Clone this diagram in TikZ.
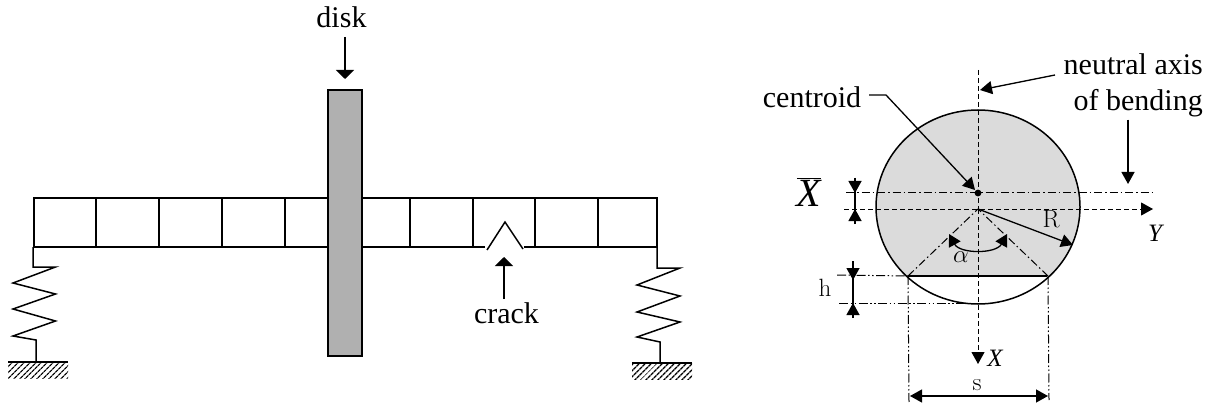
\documentclass[tikz,border=0pt]{standalone}
\usepackage{fontspec}
\setmainfont{Liberation Serif}
\newfontfamily\cmfont{Latin Modern Roman}
\usetikzlibrary{arrows.meta, patterns.meta}
\tikzset{
    lbl/.style={inner sep=0pt, font=\fontsize{30}{36}\selectfont},
    cmlbl/.style={inner sep=0pt, font=\fontsize{25}{28}\cmfont},
    axislbl/.style={inner sep=0pt, font=\fontsize{25}{28}\selectfont\itshape},
    beamline/.style={line width=1.5pt},
    arr/.style={line width=1.3pt, -{Triangle[length=12pt,width=13pt]}},
    arrwide/.style={line width=1.3pt, -{Triangle[length=9pt,width=18pt]}},
    arrboth/.style={line width=1.3pt, {Triangle[length=12pt,width=13pt]}-{Triangle[length=12pt,width=13pt]}},
    axisline/.style={line width=1pt, dash pattern=on 5pt off 3pt},
    centerline/.style={line width=1pt, dash pattern=on 8pt off 3pt on 1.5pt off 3pt},
    extline/.style={line width=1pt, dash pattern=on 9pt off 2.5pt on 1.5pt off 2.5pt on 1.5pt off 2.5pt},
    ground/.style={pattern={Lines[angle=45,distance=4pt,line width=1.4pt]}, draw=none}
}
\begin{document}
\begin{tikzpicture}[x=1pt,y=-1pt]
    \useasboundingbox (0,0) rectangle (1212,406);
    % beam
    \draw[beamline] (485,247) -- (34,247) -- (34,198) -- (657,198) -- (657,247) -- (524,247);
    \foreach \x in {96,159,222,285,410,473,535,598}
        \draw[beamline] (\x,198) -- (\x,247);
    % crack
    \draw[beamline] (487,250) -- (505,222) -- (523,249);
    % disk
    \draw[beamline, fill=black!31] (328,90) rectangle (362,356);
    \node[lbl] (disklabel) at (341.5,17) {disk};
    \coordinate (disktip) at (345,79);
    \draw[arrwide, shorten <=9pt] (disklabel.south -| disktip) -- (disktip);
    \node[lbl] (cracklabel) at (506.5,313) {crack};
    \coordinate (cracktip) at (504,257);
    \draw[arrwide, shorten <=3pt] (cracklabel.north -| cracktip) -- (cracktip);
    % springs
    \draw[beamline] (33,247) -- (33,267) -- (55.5,267) -- (13,283) -- (55.5,294) -- (13,309)
        -- (55.5,321) -- (13,336) -- (36,340) -- (36,362);
    \draw[beamline] (657,247) -- (657,268) -- (680,268) -- (637,285) -- (680,296) -- (637,312)
        -- (680,322) -- (637,337) -- (660,342) -- (660,363);
    \fill[ground] (8,362) rectangle (68,378);
    \draw[beamline] (8,362) -- (68,362);
    \fill[ground] (632,363) rectangle (692,379);
    \draw[beamline] (632,363) -- (692,363);
    % section
    \begin{scope}
        \clip (860,100) rectangle (1100,276);
        \fill[black!14] (978,207) ellipse [x radius=102, y radius=97];
    \end{scope}
    \draw[line width=1.5pt] (978,207) ellipse [x radius=102, y radius=97];
    \draw[line width=1.5pt] (908,276) -- (1047,276);
    \coordinate (center) at (978,209);
    \coordinate (chordl) at (908,276);
    \coordinate (chordr) at (1048,276);
    % axes
    \draw[axisline] (978,70) -- (center);
    \draw[axisline, arr, line width=1pt, dash pattern=on 5pt off 3pt] (center) -- (978,364);
    \draw[axisline, arr, line width=1pt, dash pattern=on 5pt off 3pt] (844,209) -- (1153,209);
    \draw[centerline] (846,193) -- (1153,193);
    \draw[centerline] (chordl) -- (center) -- (chordr);
    \fill (978,193) circle (3.4);
    \draw[arr] (center) -- (1073,245);
    \draw[arrboth] (949,234) .. controls (960,254) and (996,254) .. (1007,234);
    % dimensions
    \draw[line width=1.3pt] (855,178) -- (855,224);
    \draw[arr] (855,178) -- (855,193);
    \draw[arr] (855,224) -- (855,209);
    \draw[extline] (837,275) -- (chordl);
    \draw[extline] (839,303) -- (965,303);
    \draw[line width=1.3pt] (853,261) -- (853,318);
    \draw[arr] (853,261) -- (853,280);
    \draw[arr] (853,318) -- (853,303);
    \draw[extline] (chordl) -- (909,402);
    \draw[extline] (chordr) -- (1049,400);
    \draw[arrboth] (910,396) -- (1048,396);
    % labels
    \node[lbl, align=right, anchor=north east] (axislabel) at (1203,53) {neutral axis\\of bending};
    \coordinate (axistip) at (980,90);
    \coordinate (axisfrom) at (1055,75);
    \draw[arr] (axisfrom) -- (axistip);
    \coordinate (bendtip) at (1128,184);
    \draw[arr, shorten <=3pt] (axislabel.south -| bendtip) -- (bendtip);
    \node[lbl] (centroidlabel) at (812,97) {centroid};
    \coordinate (centroidtip) at (975,190);
    \draw[arr] (869,95) -- (886,95) -- (centroidtip);
    \node[inner sep=0pt, font=\fontsize{40}{44}\selectfont] (xbarlabel) at (809,192) {$\overline{\mbox{\itshape X}}$};
    \node[cmlbl] (hlabel) at (825,288) {h};
    \node[cmlbl] (rlabel) at (1051,219) {R};
    \node[cmlbl] (slabel) at (977,385) {s};
    \node[cmlbl] (alphalabel) at (961,257) {$\alpha$};
    \node[axislbl] (xlabel) at (995,358) {X};
    \node[axislbl] (ylabel) at (1155,233) {Y};
\end{tikzpicture}
\end{document}
